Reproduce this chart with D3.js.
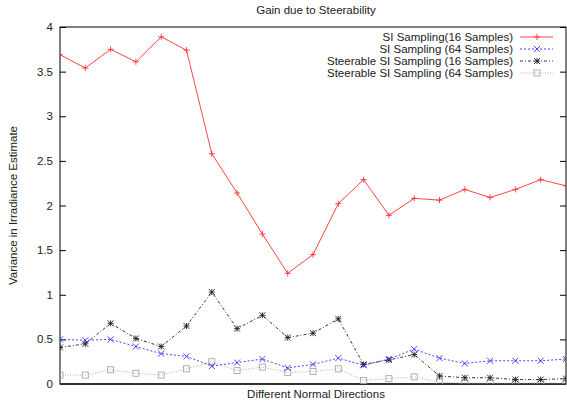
<!DOCTYPE html>
<html>
<head>
<meta charset="utf-8">
<script src="https://cdn.jsdelivr.net/npm/d3@7"></script>
<style>
  body { margin: 0; background: #fff; }
  text { font-family: "Liberation Sans", Arial, sans-serif; fill: #222; }
</style>
</head>
<body>
<div id="chart"></div>
<script>
// Data (21 normal directions)
const directions = d3.range(21);
const si16 = [3.69, 3.54, 3.75, 3.61, 3.89, 3.74, 2.58, 2.14, 1.68, 1.24, 1.45, 2.02, 2.29, 1.89, 2.08, 2.06, 2.18, 2.09, 2.18, 2.29, 2.22];
const si64 = [0.50, 0.49, 0.50, 0.42, 0.34, 0.31, 0.20, 0.24, 0.28, 0.18, 0.22, 0.29, 0.21, 0.28, 0.39, 0.29, 0.23, 0.26, 0.26, 0.26, 0.28];
const steer16 = [0.41, 0.45, 0.68, 0.51, 0.42, 0.65, 1.03, 0.62, 0.77, 0.52, 0.57, 0.73, 0.22, 0.27, 0.33, 0.09, 0.07, 0.07, 0.05, 0.05, 0.06];
const steer64 = [0.10, 0.10, 0.16, 0.12, 0.10, 0.17, 0.25, 0.15, 0.19, 0.13, 0.14, 0.17, 0.04, 0.06, 0.08, 0.02, 0.01, 0.01, 0.01, 0.01, 0.01];
const yTicks = [0, 0.5, 1, 1.5, 2, 2.5, 3, 3.5, 4];
const seriesNames = ["SI Sampling(16 Samples)", "SI Sampling (64 Samples)", "Steerable SI Sampling (16 Samples)", "Steerable SI Sampling (64 Samples)"];

const series = [
  { name: seriesNames[0], values: si16, color: "#ff3030", dash: null, marker: "plus" },
  { name: seriesNames[1], values: si64, color: "#3030ff", dash: "2,2", marker: "cross" },
  { name: seriesNames[2], values: steer16, color: "#202020", dash: "3,2,1,2", marker: "star" },
  { name: seriesNames[3], values: steer64, color: "#a8a8a8", dash: "1,1.5", marker: "square" }
];

const W = 567, H = 402;
const margin = { top: 27, right: 1, bottom: 18, left: 60 };
const width = W - margin.left - margin.right;
const height = H - margin.top - margin.bottom;

const svg = d3.select("#chart").append("svg")
  .attr("width", W).attr("height", H);

const g = svg.append("g")
  .attr("transform", "translate(" + margin.left + "," + margin.top + ")");

const x = d3.scaleLinear().domain([0, 20]).range([0, width]);
const y = d3.scaleLinear().domain([0, 4]).range([height, 0]);

// clip to plot area
svg.append("defs").append("clipPath").attr("id", "clip")
  .append("rect").attr("width", width).attr("height", height);

// y axis left and right, ticks inward
const yAxisL = d3.axisRight(y).tickValues(yTicks).tickSize(6).tickFormat("");
g.append("g").call(yAxisL).call(s => s.select(".domain").remove())
  .selectAll("line").attr("stroke", "#000");
const yAxisR = d3.axisLeft(y).tickValues(yTicks).tickSize(6).tickFormat("");
g.append("g").attr("transform", "translate(" + width + ",0)")
  .call(yAxisR).call(s => s.select(".domain").remove())
  .selectAll("line").attr("stroke", "#000");

// tick labels
g.append("g").selectAll("text").data(yTicks).join("text")
  .attr("x", -7).attr("y", d => y(d)).attr("dy", "0.35em")
  .attr("text-anchor", "end").attr("font-size", 11.5)
  .text(d => d3.format("")(d));

// frame
g.append("rect").attr("width", width).attr("height", height)
  .attr("fill", "none").attr("stroke", "#000").attr("stroke-width", 1);
g.append("line").attr("x1", 0).attr("x2", width).attr("y1", height).attr("y2", height)
  .attr("stroke", "#333").attr("stroke-width", 2);

function drawMarker(sel, type, color) {
  const s = 3;
  if (type === "plus" || type === "star") {
    sel.append("path").attr("d", `M${-s},0H${s}M0,${-s}V${s}`);
  }
  if (type === "cross" || type === "star") {
    sel.append("path").attr("d", `M${-s},${-s}L${s},${s}M${-s},${s}L${s},${-s}`);
  }
  if (type === "square") {
    sel.append("rect").attr("x", -s).attr("y", -s).attr("width", 2 * s).attr("height", 2 * s)
      .attr("fill", "none");
  }
  sel.attr("stroke", color).attr("stroke-width", 0.9).attr("fill", "none");
}

const plot = g.append("g").attr("clip-path", "url(#clip)");
const line = d3.line().x((d, i) => x(directions[i])).y(d => y(d));

series.slice().reverse().forEach(s => {
  plot.append("path").datum(s.values)
    .attr("d", line)
    .attr("fill", "none").attr("stroke", s.color).attr("stroke-width", 0.9)
    .attr("stroke-dasharray", s.dash);
  s.values.forEach((v, i) => {
    const m = plot.append("g").attr("transform", "translate(" + x(directions[i]) + "," + y(v) + ")");
    drawMarker(m, s.marker, s.color);
  });
});

// legend
const legend = g.append("g").attr("transform", "translate(0," + (37 - margin.top) + ")");
series.forEach((s, i) => {
  const row = legend.append("g").attr("transform", "translate(0," + i * 12 + ")");
  row.append("text").attr("x", 513 - margin.left).attr("y", 0).attr("dy", "0.35em")
    .attr("text-anchor", "end").attr("font-size", 11.5).text(s.name);
  row.append("line").attr("x1", 520 - margin.left).attr("x2", 553 - margin.left)
    .attr("stroke", s.color).attr("stroke-width", 0.9).attr("stroke-dasharray", s.dash);
  const m = row.append("g").attr("transform", "translate(" + (537 - margin.left) + ",0)");
  drawMarker(m, s.marker, s.color);
});

// title and axis labels
svg.append("text").attr("x", margin.left + width / 2 + 3).attr("y", 14)
  .attr("text-anchor", "middle").attr("font-size", 11.5).text("Gain due to Steerability");
svg.append("text").attr("x", margin.left + width / 2 + 3).attr("y", 398)
  .attr("text-anchor", "middle").attr("font-size", 11.5).text("Different Normal Directions");
svg.append("text").attr("transform", "translate(17," + (margin.top + height / 2) + ") rotate(-90)")
  .attr("text-anchor", "middle").attr("font-size", 11.5).text("Variance in Irradiance Estimate");
</script>
</body>
</html>
